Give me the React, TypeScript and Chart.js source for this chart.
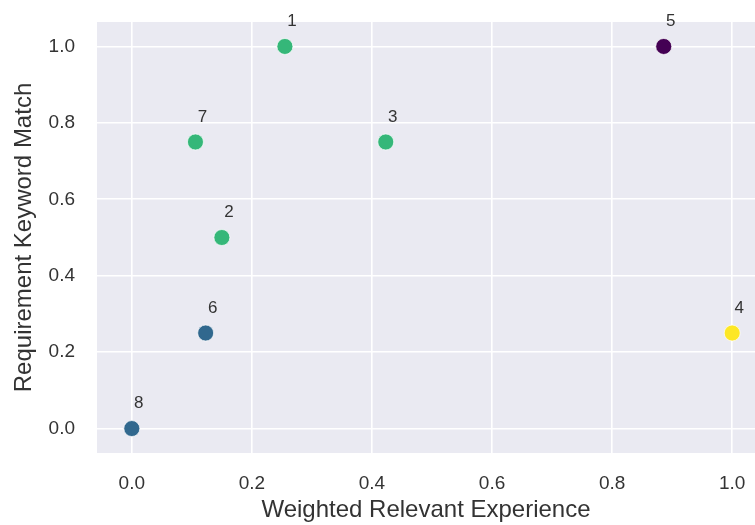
import React, { useEffect, useRef } from "react";
import { Chart, registerables } from "chart.js";

Chart.register(...registerables);

// ---- data ----
const pointIds = ["1", "2", "3", "4", "5", "6", "7", "8"];
const experience = [0.255, 0.15, 0.423, 1.0, 0.886, 0.123, 0.106, 0.0];
const keywordMatch = [1.0, 0.5, 0.75, 0.25, 1.0, 0.25, 0.75, 0.0];
const clusters = [2, 2, 2, 3, 0, 1, 2, 1];
const clusterColors = ["#440154", "#31688e", "#35b779", "#fde725"];
const xTicks = [0.0, 0.2, 0.4, 0.6, 0.8, 1.0];
const yTicks = [0.0, 0.2, 0.4, 0.6, 0.8, 1.0];
const xRange = [-0.058, 1.038];
const yRange = [-0.064, 1.064];
const xTitle = "Weighted Relevant Experience";
const yTitle = "Requirement Keyword Match";

const FONT = "'Liberation Sans', Arial, Helvetica, sans-serif";
const TEXT = "#333333";

const bgPlugin = {
  id: "plotBg",
  beforeDraw(chart: any) {
    const { ctx, chartArea } = chart;
    ctx.save();
    ctx.fillStyle = "#ffffff";
    ctx.fillRect(0, 0, chart.width, chart.height);
    ctx.fillStyle = "#EAEAF2";
    ctx.fillRect(chartArea.left, chartArea.top, chartArea.right - chartArea.left, chartArea.bottom - chartArea.top);
    ctx.restore();
  },
};

const labelPlugin = {
  id: "pointLabels",
  afterDatasetsDraw(chart: any) {
    const { ctx } = chart;
    const meta = chart.getDatasetMeta(0);
    ctx.save();
    ctx.font = `17px ${FONT}`;
    ctx.fillStyle = TEXT;
    ctx.textAlign = "center";
    ctx.textBaseline = "middle";
    meta.data.forEach((el: any, i: number) => {
      ctx.fillText(pointIds[i], el.x + 7, el.y - 25);
    });
    ctx.restore();
  },
};

export default function App() {
  const ref = useRef<HTMLCanvasElement>(null);
  useEffect(() => {
    if (!ref.current) return;
    const chart = new Chart(ref.current, {
      type: "scatter",
      data: {
        datasets: [
          {
            data: experience.map((x, i) => ({ x, y: keywordMatch[i] })),
            backgroundColor: clusters.map((c) => clusterColors[c]),
            borderColor: "rgba(255,255,255,0.7)",
            borderWidth: 1,
            pointRadius: 8,
            pointHoverRadius: 8,
            clip: false,
          },
        ],
      },
      options: {
        responsive: false,
        animation: false,
        events: [],
        layout: { autoPadding: false, padding: { top: 22, right: 0, left: 0, bottom: 0 } },
        plugins: { legend: { display: false }, tooltip: { enabled: false } },
        scales: {
          x: {
            type: "linear",
            min: xRange[0],
            max: xRange[1],
            afterBuildTicks: (s: any) => {
              s.ticks = xTicks.map((v) => ({ value: v }));
            },
            afterFit: (s: any) => {
              s.height = 72;
              s.paddingLeft = 0;
              s.paddingRight = 0;
              s.paddingTop = 0;
              s.paddingBottom = 0;
            },
            border: { display: false },
            grid: { color: "#ffffff", lineWidth: 1.6, drawTicks: false },
            ticks: {
              padding: 19,
              color: TEXT,
              font: { family: FONT, size: 19 },
              callback: (v: any) => Number(v).toFixed(1),
            },
            title: {
              display: true,
              text: xTitle,
              color: TEXT,
              font: { family: FONT, size: 24 },
              padding: { top: 0, bottom: 0 },
            },
          },
          y: {
            type: "linear",
            min: yRange[0],
            max: yRange[1],
            afterBuildTicks: (s: any) => {
              s.ticks = yTicks.map((v) => ({ value: v }));
            },
            afterFit: (s: any) => {
              s.width = 97;
              s.paddingLeft = 0;
              s.paddingRight = 0;
              s.paddingTop = 0;
              s.paddingBottom = 0;
            },
            border: { display: false },
            grid: { color: "#ffffff", lineWidth: 1.6, drawTicks: false },
            ticks: {
              padding: 22,
              color: TEXT,
              font: { family: FONT, size: 19 },
              callback: (v: any) => Number(v).toFixed(1),
            },
            title: {
              display: true,
              text: yTitle,
              color: TEXT,
              font: { family: FONT, size: 24 },
              padding: { top: 10, bottom: 0 },
            },
          },
        },
      },
      plugins: [bgPlugin, labelPlugin],
    });
    return () => chart.destroy();
  }, []);
  return (
    <div style={{ position: "fixed", left: 0, top: 0, width: 755, height: 525, background: "#fff" }}>
      <canvas ref={ref} width={755} height={525} style={{ display: "block" }} />
    </div>
  );
}
